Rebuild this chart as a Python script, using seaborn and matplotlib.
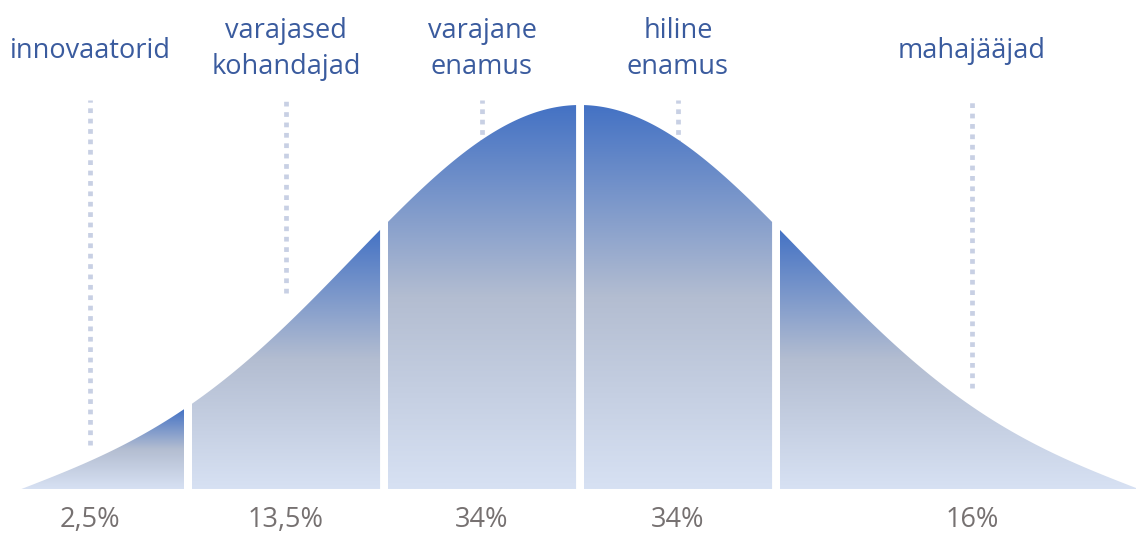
import numpy as np
import matplotlib
matplotlib.use("Agg")
import matplotlib.pyplot as plt
from matplotlib.colors import LinearSegmentedColormap
from matplotlib.patches import Polygon
import seaborn as sns

# Adopter groups of the diffusion-of-innovations curve
groups = ["innovaatorid", "varajased\nkohandajad", "varajane\nenamus", "hiline\nenamus", "mahajääjad"]
shares = [2.5, 13.5, 34, 34, 16]
# group limits, in standard deviations from the mean
bounds = [-3, -2, -1, 0, 1, 3]

sns.set_theme(style="white")
plt.rcParams["font.family"] = ["Open Sans", "DejaVu Sans"]

TAIL = 2.85      # where the drawn bell meets the baseline
SHAPE = 1.15     # width of the bell
HALF_GAP = 0.02  # half of the white gap between groups


def bell(z):
    base = np.exp(-z ** 2 / (2 * SHAPE ** 2))
    end = np.exp(-TAIL ** 2 / (2 * SHAPE ** 2))
    return base - end * (z / TAIL) ** 6


fig = plt.figure(figsize=(11.36, 5.33), dpi=100)
ax = fig.add_axes([0, 0, 1, 1])
ax.set_axis_off()

cmap = LinearSegmentedColormap.from_list(
    "fade", [(0.0, "#D7E1F3"), (0.5, "#B3BDD1"), (1.0, "#4472C4")])
grad = np.linspace(0, 1, 256).reshape(-1, 1)

centers = []
for i, (lo, hi) in enumerate(zip(bounds[:-1], bounds[1:])):
    a = -TAIL if i == 0 else lo + HALF_GAP
    b = TAIL if i == len(bounds) - 2 else hi - HALF_GAP
    xs = np.linspace(a, b, 400)
    ys = np.clip(bell(xs), 0, None)
    poly = Polygon(np.column_stack([np.r_[xs, b, a], np.r_[ys, 0, 0]]),
                   closed=True, facecolor="none", edgecolor="none")
    ax.add_patch(poly)
    im = ax.imshow(grad, cmap=cmap, origin="lower", extent=[a, b, 0, ys.max()],
                   aspect="auto", interpolation="bilinear", zorder=3)
    im.set_clip_path(poly)
    centers.append((lo + hi) / 2)

# dotted guides above each group
guide_top = 1.013
guide_bottom = [0.115, 0.51, 0.6, 0.6, 0.263]
for x, bot in zip(centers, guide_bottom):
    sns.lineplot(x=[x, x], y=[bot, guide_top], orient="y", ax=ax, color="#C8D0E4",
                 lw=3.4, linestyle=(0, (1.0, 1.2)), estimator=None, sort=False,
                 legend=False, zorder=1)

label_color = "#3A5B9E"
pct_color = "#767171"
fs = 19.5
for x, name, v in zip(centers, groups, shares):
    lines = name.split("\n")
    if len(lines) == 1:
        ax.text(x, 1.1224, lines[0], ha="center", va="baseline", color=label_color, fontsize=fs)
    else:
        ax.text(x, 1.1745, lines[0], ha="center", va="baseline", color=label_color, fontsize=fs)
        ax.text(x, 1.0807, lines[1], ha="center", va="baseline", color=label_color, fontsize=fs)
    txt = f"{v:g}".replace(".", ",") + "%"
    ax.text(x, -0.1, txt, ha="center", va="baseline", color=pct_color, fontsize=fs)

ax.set_xlim((0 - 580) / 196, (1136 - 580) / 196)
ax.set_ylim(-44 / 384, 489 / 384)

fig.savefig("out.png", dpi=100, facecolor="white")
